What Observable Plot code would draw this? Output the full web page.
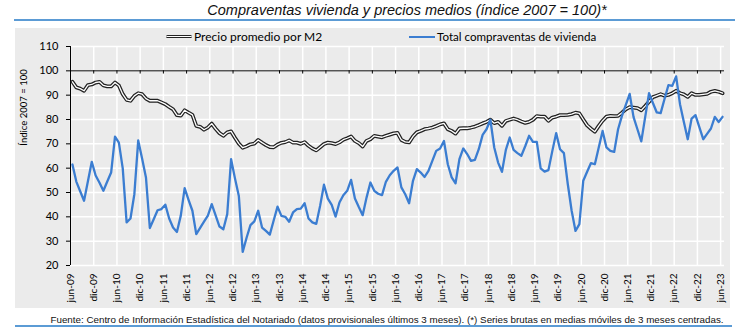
<!DOCTYPE html>
<html>
<head>
<meta charset="utf-8">
<script src="https://cdn.jsdelivr.net/npm/d3@7"></script>
<script src="https://cdn.jsdelivr.net/npm/@observablehq/plot@0.6"></script>
<style>
  body { margin: 0; background: #fff; }
  #wrap { position: relative; width: 750px; height: 332px; overflow: hidden; font-family: "Liberation Sans", Arial, sans-serif; }
  #title { position: absolute; left: 407px; top: 2px; transform: translateX(-50%); white-space: nowrap; font-style: italic; font-size: 14.5px; color: #111; }
  #rule1 { position: absolute; left: 14px; top: 19px; width: 721px; height: 2px; background: #5b9bd5; }
  #panel { position: absolute; left: 15px; top: 28px; width: 715px; height: 280px; background: #ebebeb; }
  #rule2 { position: absolute; left: 15px; top: 325px; width: 717px; height: 2px; background: #5b9bd5; }
  #foot { position: absolute; left: 387px; top: 314px; transform: translateX(-50%); white-space: nowrap; font-size: 9.8px; color: #111; }
  .leg { position: absolute; top: 29px; font-family: Lato, sans-serif; font-size: 12px; color: #000; white-space: nowrap; }
  .sym1 { position: absolute; width: 26px; height: 1.4px; background: #fff; border-top: 1.3px solid #222; border-bottom: 1.3px solid #222; border-radius: 2px; }
  .sym2 { position: absolute; width: 26px; height: 2.4px; background: #3b7dd1; }
  #chart { position: absolute; left: 0; top: 0; }
</style>
</head>
<body>
<div id="wrap">
  <div id="rule1"></div>
  <div id="title">Compraventas vivienda y precios medios (índice 2007 = 100)*</div>
  <div id="panel"></div>
  <div class="sym1" style="left:166px; top:35px;"></div>
  <div class="leg" style="left:194px;">Precio promedio por M2</div>
  <div class="sym2" style="left:409px; top:36px;"></div>
  <div class="leg" style="left:437px; font-size:11.6px; top:29.5px;">Total compraventas de vivienda</div>
  <div id="chart"></div>
  <div id="foot">Fuente: Centro de Información Estadística del Notariado (datos provisionales últimos 3 meses). (*) Series brutas en medias móviles de 3 meses centradas.</div>
  <div id="rule2"></div>
</div>
<script>
// Monthly values, jun-09 ... jun-23 (169 months)
const precio = [
  95.5, 93.2, 92.7, 91.8, 94.1, 94.4, 95.2, 95.5, 94.0, 93.6,
  93.6, 95.2, 94.0, 90.4, 88.1, 87.7, 89.7, 90.8, 90.4, 88.6,
  87.7, 87.7, 87.7, 87.0, 86.3, 85.2, 84.2, 81.8, 81.6, 83.8,
  82.8, 81.9, 77.4, 77.0, 75.8, 76.7, 78.3, 76.2, 74.4, 73.3,
  74.7, 75.1, 72.5, 70.1, 68.4, 69.0, 69.8, 70.1, 71.6, 70.5,
  69.5, 68.7, 68.6, 69.7, 70.4, 70.7, 71.4, 70.5, 70.5, 70.0,
  70.7, 69.2, 68.1, 67.3, 68.6, 69.9, 70.5, 70.3, 69.9, 70.6,
  71.7, 72.3, 73.0, 71.2, 70.3, 68.9, 71.2, 71.9, 73.3, 73.0,
  72.7, 73.3, 73.8, 74.3, 74.5, 71.6, 70.8, 70.6, 73.0, 74.7,
  75.3, 76.0, 76.3, 76.7, 77.3, 78.0, 78.4, 76.0, 75.3, 74.2,
  76.3, 76.4, 76.4, 76.7, 77.1, 77.7, 78.4, 79.0, 79.9, 78.5,
  79.0, 77.4, 79.4, 79.9, 80.4, 79.9, 79.2, 78.6, 79.0, 79.9,
  81.4, 81.2, 81.2, 79.5, 80.8, 81.2, 81.8, 81.8, 81.9, 82.2,
  82.8, 82.5, 80.0, 77.6, 76.2, 75.0, 77.4, 79.5, 81.2, 81.5,
  81.4, 81.5, 82.8, 84.2, 85.1, 84.9, 84.7, 83.8, 85.5, 87.3,
  89.2, 89.8, 90.4, 89.8, 90.1, 90.8, 91.8, 90.8, 90.3, 89.3,
  90.8, 90.1, 90.1, 90.3, 90.5, 91.4, 91.8, 91.4, 90.8
];
const compraventas = [
  61.5, 54.5, 50.5, 46.6, 54.6, 62.6, 57.0, 54.0, 50.7, 54.5,
  58.2, 73.0, 70.5, 59.9, 37.7, 39.3, 49.3, 71.4, 64.0, 56.2,
  35.4, 39.0, 42.7, 43.2, 45.0, 39.3, 35.6, 33.8, 40.5, 51.8,
  47.0, 42.5, 32.9, 35.5, 38.0, 40.5, 45.2, 40.6, 36.0, 34.9,
  41.1, 63.7, 55.8, 48.6, 25.6, 31.4, 36.6, 38.1, 42.5, 35.6,
  34.2, 32.7, 38.5, 44.2, 40.4, 40.0, 38.0, 41.8, 43.2, 43.4,
  45.6, 39.3, 37.7, 37.1, 44.5, 53.2, 47.5, 44.9, 40.1, 45.9,
  48.9, 50.7, 55.2, 47.5, 44.0, 40.7, 47.9, 54.1, 50.7, 49.5,
  48.9, 54.4, 57.1, 58.9, 60.3, 52.1, 49.3, 45.6, 54.8, 59.6,
  58.2, 56.4, 58.9, 63.0, 67.1, 68.1, 71.2, 61.6, 56.2, 53.8,
  63.7, 68.1, 65.8, 63.0, 63.4, 67.8, 73.7, 76.0, 79.9, 68.5,
  62.3, 58.5, 67.5, 72.6, 67.5, 66.2, 65.1, 69.0, 73.3, 70.8,
  70.8, 59.9, 58.6, 59.2, 67.0, 74.4, 67.8, 66.2, 53.5, 42.5,
  34.2, 37.0, 54.8, 58.5, 62.1, 61.6, 68.5, 75.3, 68.5, 67.1,
  66.7, 76.0, 81.5, 86.0, 90.5, 81.0, 76.0, 71.0, 81.0, 90.8,
  86.8, 82.9, 82.6, 88.4, 94.1, 93.8, 97.7, 86.3, 79.0, 71.9,
  80.4, 81.8, 76.9, 71.9, 74.1, 76.3, 81.1, 79.0, 81.1
];
const xLabels = ["jun-09","dic-09","jun-10","dic-10","jun-11","dic-11","jun-12","dic-12",
  "jun-13","dic-13","jun-14","dic-14","jun-15","dic-15","jun-16","dic-16","jun-17","dic-17",
  "jun-18","dic-18","jun-19","dic-19","jun-20","dic-20","jun-21","dic-21","jun-22","dic-22","jun-23"];
const yTicks = [20, 30, 40, 50, 60, 70, 80, 90, 100, 110];
const yTitle = "Índice 2007 = 100";

const xTicks = xLabels.map((_, i) => i * 6);
const data = precio.map((p, i) => ({ m: i + 0.5, precio: p, compraventas: compraventas[i] }));
const tickLen = 3.2 * 90 / 219;

const chart = Plot.plot({
  width: 750, height: 332,
  marginLeft: 70, marginRight: 26, marginTop: 46, marginBottom: 67,
  style: { background: "transparent", fontFamily: "Lato, sans-serif", color: "#000", overflow: "visible" },
  x: { domain: [0, 169], axis: null, label: null },
  y: { domain: [20, 110], axis: null, label: null },
  marks: [
    Plot.ruleY(yTicks, { stroke: "#fff", strokeWidth: 1.5 }),
    Plot.ruleX(xTicks, { y1: 20, y2: 110, stroke: "#fff", strokeWidth: 1.5 }),
    Plot.ruleY([100], { stroke: "#000", strokeWidth: 1 }),
    Plot.ruleX(xTicks, { x: d => d, y1: 100, y2: 100 - tickLen, stroke: "#000", strokeWidth: 1 }),
    Plot.ruleX([0], { y1: 20, y2: 110, stroke: "#000", strokeWidth: 1 }),
    Plot.axisY({ ticks: yTicks, label: null, tickSize: 4, tickPadding: 8, fontSize: 11, stroke: "#000", fill: "#000" }),
    Plot.axisX({ ticks: xTicks, label: null, tickFormat: d => xLabels[d / 6], tickRotate: -90, tickSize: 0, tickPadding: 8, fontSize: 10, fill: "#000" }),
    Plot.text([yTitle], { text: d => d, frameAnchor: "top-left", textAnchor: "middle", lineAnchor: "middle", dx: -47, dy: 61, rotate: -90, fontSize: 9.5, fill: "#000" }),
    Plot.line(data, { x: "m", y: "precio", stroke: "#222", strokeWidth: 3.8 }),
    Plot.line(data, { x: "m", y: "precio", stroke: "#fff", strokeWidth: 1.3 }),
    Plot.line(data, { x: "m", y: "compraventas", stroke: "#3b7dd1", strokeWidth: 2.3 })
  ]
});
document.getElementById("chart").appendChild(chart);
</script>
</body>
</html>
